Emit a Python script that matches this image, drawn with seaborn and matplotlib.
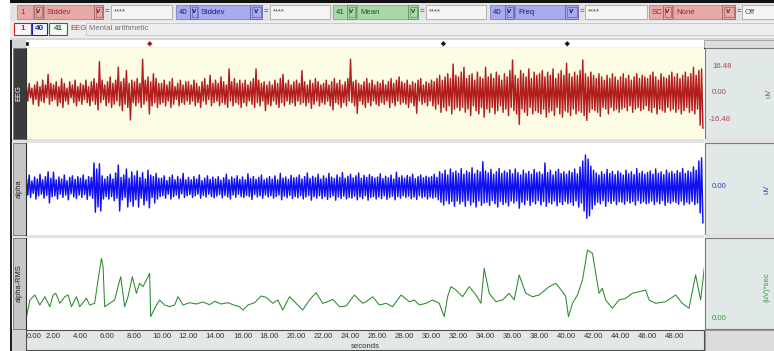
import numpy as np
import pandas as pd
import matplotlib
matplotlib.use("Agg")
import matplotlib.pyplot as plt
from matplotlib.patches import Rectangle
import seaborn as sns

# ---------------- data ----------------
# EEG (uV): local maxima every 0.2 s and local minima 0.1 s after each
eeg_peaks = [
    4, 6, 3, 5, 7, 4, 8, 5, 11.6, 6,
    5, 7, 4, 9, 6, 3, 7, 5, 8, 4,
    6, 5, 8, 4, 7, 9, 6, 19.5, 8, 5,
    7, 10, 6, 8, 16, 7, 9, 14, 6, 8,
    7, 9, 6, 21, 8, 10, 7, 12, 9, 6,
    6, 8, 5, 7, 9, 4, 6, 8, 5, 7,
    7, 5, 8, 6, 4, 7, 9, 5, 11, 6,
    8, 6, 10, 7, 5, 15, 7, 9, 6, 8,
    6, 8, 5, 7, 9, 15, 8, 6, 7, 5,
    7, 5, 8, 6, 9, 11.6, 6, 8, 5, 7,
    8, 6, 14, 7, 5, 8, 6, 9, 7, 5,
    6, 8, 5, 7, 9, 6, 8, 5, 7, 9,
    21, 7, 8, 6, 5, 7, 9, 6, 8, 5,
    7, 6, 8, 5, 7, 9, 6, 8, 10, 7,
    6, 8, 5, 7, 6, 8, 9, 5, 7, 6,
    8, 7, 9, 11, 8, 10, 12, 9, 18, 11,
    10, 13, 16, 9, 11, 12, 8, 13, 10, 9,
    16, 10, 12, 9, 13, 11, 8, 12, 10, 14,
    20.5, 11, 9, 14, 12, 10, 15, 9, 13, 11,
    12, 14, 10, 13, 11, 15, 9, 12, 14, 11,
    18.5, 12, 10, 13, 11, 14, 20.5, 12, 10, 13,
    11, 9, 12, 10, 8, 11, 9, 12, 10, 8,
    10, 12, 9, 11, 8, 10, 12, 9, 11, 10,
    9, 11, 13, 10, 8, 12, 10, 9, 11, 13,
    10, 12, 9, 11, 13, 10, 12, 16, 11, 14,
    15]
eeg_troughs = [
    -5, -3, -7, -4, -8, -5, -6, -3, -7, -5,
    -4, -8, -6, -9, -5, -7, -3, -6, -8, -5,
    -7, -4, -6, -8, -5, -7, -10.5, -6, -4, -8,
    -6, -9, -7, -5, -8, -11, -7, -9, -16.8, -6,
    -8, -6, -9, -7, -5, -13, -8, -6, -9, -7,
    -6, -8, -5, -9, -7, -4, -8, -6, -7, -5,
    -7, -5, -8, -6, -9, -5, -7, -4, -8, -6,
    -5, -8, -6, -7, -9, -5, -8, -6, -7, -9,
    -6, -8, -5, -7, -9, -6, -8, -5, -11, -7,
    -8, -5, -7, -9, -6, -8, -5, -7, -6, -8,
    -5, -7, -6, -8, -6, -9.5, -7, -5, -8, -6,
    -7, -5, -8, -10.5, -6, -7, -9, -6, -8, -5,
    -6, -8, -12.6, -5, -7, -9, -6, -8, -5, -7,
    -8, -6, -7, -5, -9, -6, -8, -5, -7, -6,
    -7, -9, -6, -8, -12.6, -5, -7, -6, -8, -5,
    -8, -10, -7, -12, -9, -11, -8, -13, -10, -9,
    -11, -9, -12, -10, -14, -8, -11, -13, -9, -15,
    -10, -12, -9, -13, -11, -8, -12, -10, -14, -9,
    -11, -13, -19.5, -10, -12, -14, -9, -13, -11, -12,
    -13, -10, -15, -12, -11, -14, -9, -13, -15, -11,
    -12, -14, -10, -13, -11, -12, -14, -17, -12, -10,
    -11, -12, -14.5, -9, -10, -13, -9, -11, -10, -12,
    -10, -9, -11, -8, -12, -10, -9, -11, -10, -8,
    -11, -12, -9, -13, -10, -11, -12, -9, -11, -10,
    -12, -10, -13, -11, -9, -12, -11, -13, -10, -20,
    -22]

# alpha band (uV), same sampling
alpha_peaks = [
    2, 3, 1.5, 2.5, 2, 3.2, 1.8, 2.6, 3.8, 2.2,
    3.7, 1.8, 2.5, 2, 3, 1.6, 2.4, 2.8, 1.9, 2.6,
    2.2, 3, 1.8, 2.6, 2.4, 6, 4.5, 5.8, 2.8, 2,
    2.6, 3.2, 2, 3.5, 5.5, 2.4, 3, 4.5, 2.2, 3.8,
    2.8, 4, 2.4, 3.6, 2, 4.2, 3, 2.6, 3.4, 2.2,
    2.2, 2.8, 1.6, 2.4, 3, 1.8, 2.6, 2, 3.4, 1.8,
    2.4, 1.8, 2.6, 2, 3, 1.6, 2.2, 2.8, 1.9, 2.5,
    2, 2.6, 1.7, 2.3, 3.2, 1.8, 2.5, 2.1, 2.8, 1.9,
    2.5, 1.8, 3.3, 2.1, 2.6, 1.9, 2.4, 3, 1.8, 2.2,
    2.6, 2, 2.8, 1.8, 3.4, 2.2, 2.5, 1.9, 2.9, 2.3,
    2.4, 3, 2, 2.6, 3.5, 2.1, 2.7, 2.3, 3.2, 2,
    2.8, 2.2, 3.4, 2.5, 2.1, 3, 2.4, 3.6, 2.2, 2.7,
    3.2, 2.3, 2.8, 3.5, 2.2, 2.9, 2.4, 3.1, 2.6, 2.2,
    2.5, 3.3, 2.1, 2.7, 2.3, 3, 2, 3.7, 2.4, 2.8,
    2.2, 2.9, 2.5, 3.2, 2.1, 2.6, 3, 2.3, 2.7, 2.4,
    2.6, 3.2, 2.4, 3.8, 3.3, 4.2, 3, 4.5, 3.6, 4,
    3.4, 4.6, 3.2, 4, 3.6, 4.8, 3.3, 4.2, 3.8, 6.3,
    4, 3.5, 4.4, 3.2, 3.8, 4.6, 3.4, 4, 3.6, 4.3,
    3.3, 4.5, 3.6, 3, 4.2, 3.4, 3.9, 3.2, 4.4, 3.6,
    3.8, 3.2, 6, 3.6, 4.2, 3, 3.9, 4.4, 3.4, 3.8,
    3.2, 4, 3.6, 4.5, 3.3, 5, 6.5, 8, 7, 5.2,
    4.2, 3.5, 3, 3.8, 3.2, 4.4, 3.4, 3.9, 3.1, 4,
    3.5, 3, 4.2, 3.3, 3.8, 3.1, 4.6, 3.4, 3.9, 3.2,
    3.6, 4, 3.2, 4.5, 3.4, 3.8, 3.1, 4.2, 3.5, 3.9,
    3.3, 4.1, 3.6, 4.6, 3.4, 4, 3.7, 5, 4.2, 6.5,
    7.3]
alpha_troughs = [
    -2, -2.6, -1.6, -3, -2.2, -1.8, -2.8, -2.1, -4, -2.4,
    -2.2, -3, -1.8, -2.6, -2, -3.2, -1.7, -2.5, -2.9, -2,
    -2.6, -1.9, -3.1, -2.2, -2.8, -6.3, -5, -6, -3, -2.4,
    -3, -2.4, -3.4, -2.8, -6, -3.2, -2.6, -5, -3.6, -4.8,
    -3.2, -5, -2.8, -4.5, -3.4, -5.2, -2.6, -4, -3, -2.4,
    -2.2, -2.8, -1.8, -3, -2.4, -2, -2.9, -1.7, -2.6, -2.2,
    -1.9, -2.6, -2.2, -1.8, -2.8, -2.1, -2.5, -1.8, -2.4, -2.7,
    -2.3, -1.9, -2.7, -2.1, -2.5, -3, -2, -2.6, -1.8, -2.4,
    -2.6, -2.1, -2.4, -3.1, -1.9, -2.5, -2.2, -2.8, -2, -2.5,
    -2.2, -2.8, -2.4, -2, -3.2, -2.3, -2.7, -2.1, -2.9, -2.4,
    -2.7, -2.2, -3, -2.5, -2.1, -3.3, -2.4, -2.8, -2.2, -2.9,
    -2.4, -3.1, -2.6, -2.2, -3.3, -2.5, -2.9, -2.3, -3, -2.6,
    -2.8, -2.3, -3.2, -2.5, -2.9, -2.2, -3.3, -2.6, -2.4, -3,
    -2.5, -2.9, -2.2, -3.1, -2.6, -2.3, -3.2, -2.4, -2.8, -2.2,
    -2.6, -2.3, -2.9, -2.5, -3.1, -2.2, -2.7, -2.4, -3, -2.5,
    -2.8, -2.5, -3.2, -3.8, -4.5, -3.4, -4.2, -3.6, -4.8, -3.5,
    -4.2, -3.6, -4.8, -3.4, -4.5, -3.8, -5, -3.5, -4.6, -4,
    -3.8, -4.6, -3.4, -4.2, -5, -3.6, -4.4, -3.9, -4.7, -3.5,
    -4, -3.5, -5.3, -3.8, -4.4, -3.3, -4.6, -3.7, -4.2, -3.4,
    -4.5, -3.6, -4.8, -3.9, -4.2, -3.5, -4.7, -3.8, -4.4, -3.6,
    -4.2, -3.8, -4.6, -3.5, -5, -4, -6, -7.8, -7.2, -5.5,
    -4.5, -3.8, -4.2, -3.4, -4.8, -3.6, -4.1, -3.5, -4.4, -3.7,
    -3.8, -4.3, -3.5, -4, -3.6, -4.5, -3.4, -4.1, -3.7, -4.2,
    -4, -3.5, -4.4, -3.7, -4.2, -3.4, -4.6, -3.8, -4.1, -3.6,
    -3.9, -4.3, -3.5, -4.5, -3.8, -4.2, -3.6, -4.4, -4, -6.5,
    -9]

# alpha-RMS ((uV)*sec), read at irregular times (s)
rms_t = [0.00, 0.25, 0.62, 0.99, 1.36, 1.73, 1.97, 2.17, 2.47, 2.84, 3.08, 3.33, 3.70, 3.94, 4.44, 4.68,
         5.05, 5.30, 5.55, 5.67, 5.79, 6.16, 6.53, 6.78, 6.98, 7.27, 7.52, 7.84, 8.14, 8.38, 8.63, 8.88,
         9.12, 9.20, 9.49, 9.86, 10.23, 10.60, 10.97, 11.22, 11.59, 12.08, 12.57, 13.07, 13.56, 13.93, 14.42,
         14.92, 15.41, 15.78, 16.03, 16.40, 16.89, 17.38, 17.75, 18.24, 18.61, 18.98, 19.48, 19.72, 20.09,
         20.46, 20.96, 21.45, 21.94, 22.31, 22.68, 23.18, 23.67, 24.29, 24.65, 24.90, 25.15, 25.64, 26.14,
         26.63, 27.12, 27.74, 28.36, 28.73, 29.09, 29.59, 30.08, 30.57, 30.94, 31.19, 31.44, 31.81, 32.30,
         32.79, 33.29, 33.66, 33.90, 34.27, 34.77, 35.26, 35.75, 36.12, 36.49, 36.98, 37.48, 37.97, 38.71,
         39.20, 39.70, 39.94, 40.14, 40.44, 40.81, 41.18, 41.55, 41.92, 42.16, 42.41, 42.65, 42.90, 43.39,
         43.89, 44.38, 44.87, 45.37, 45.86, 46.11, 46.60, 47.34, 48.08, 48.57, 49.07, 49.56, 49.93, 50.30]
rms_v = [0.23, 1.90, 2.40, 1.40, 2.23, 1.23, 2.40, 2.57, 1.57, 2.23, 2.40, 1.23, 2.23, 1.23, 2.07, 1.40,
         1.57, 3.90, 6.07, 5.23, 1.23, 1.57, 1.90, 3.23, 4.23, 1.23, 2.23, 4.23, 2.57, 3.57, 3.23, 3.90,
         4.57, 0.23, 1.07, 1.90, 1.40, 1.23, 1.40, 2.23, 1.40, 1.63, 1.50, 1.70, 1.43, 1.77, 1.50,
         1.63, 1.37, 1.23, 0.90, 1.40, 1.63, 2.30, 2.17, 1.57, 1.90, 0.90, 2.23, 1.90, 1.40,
         0.90, 1.90, 2.63, 1.57, 1.73, 1.97, 1.23, 1.30, 2.40, 1.90, 1.57, 1.73, 2.23, 1.40,
         1.57, 1.23, 2.40, 1.73, 1.90, 1.40, 1.57, 1.90, 1.57, 0.23, 2.23, 3.23, 2.90, 2.23,
         3.23, 2.40, 1.57, 5.07, 2.57, 1.73, 1.90, 2.57, 1.90, 4.40, 2.57, 2.23, 2.40, 3.23,
         3.57, 2.73, 2.23, 0.23, 1.57, 2.40, 3.90, 6.90, 6.57, 4.57, 2.57, 3.07, 1.90, 1.07,
         1.90, 2.07, 2.57, 2.73, 2.90, 1.90, 1.57, 1.73, 2.40, 1.57, 1.07, 4.40, 1.90, 6.23]

event_times = [0.05, 9.13, 30.88, 40.05]
event_kind = ["start", "user", "marker", "marker"]

tick_values = list(range(0, 50, 2))
tick_labels = ["%.2f" % v for v in tick_values]
x_unit = "seconds"

toolbar = [  # (text, x0, x1, role)
    ("1", 17, 33, "pink"), ("v", 34, 43, "pinka"), ("Stddev", 44, 94, "pink"), ("v", 94, 103, "pinka"),
    ("=", 104, 110, "eq"), ("****", 111, 172, "white"),
    ("40", 176, 190, "blue"), ("v", 190, 198, "bluea"), ("Stddev", 198, 250, "blue"), ("v", 250, 262, "bluea"),
    ("=", 263, 269, "eq"), ("****", 270, 330, "white"),
    ("41", 333, 347, "green"), ("v", 347, 356, "greena"), ("Mean", 357, 408, "green"), ("v", 408, 418, "greena"),
    ("=", 419, 425, "eq"), ("****", 426, 486, "white"),
    ("40", 490, 505, "blue"), ("v", 505, 514, "bluea"), ("Freq", 515, 565, "blue"), ("v", 565, 578, "bluea"),
    ("=", 579, 584, "eq"), ("****", 585, 647, "white"),
    ("SC", 649, 663, "pink"), ("v", 663, 672, "pinka"), ("None", 673, 722, "pink"), ("v", 722, 735, "pinka"),
    ("=", 736, 741, "eq"), ("Off", 742, 774, "white"),
]

# ---------------- figure ----------------
sns.set_theme(style="white")
plt.rcParams['font.family'] = ['Liberation Sans', 'DejaVu Sans']

W, H = 774, 351
fig = plt.figure(figsize=(W / 100, H / 100), dpi=100)
fig.patch.set_facecolor("white")

ui = fig.add_axes([0, 0, 1, 1])
ui.set_xlim(0, W)
ui.set_ylim(H, 0)
ui.axis("off")


def ax_px(x0, y0, x1, y1):
    return fig.add_axes([x0 / W, 1 - y1 / H, (x1 - x0) / W, (y1 - y0) / H])


def rect(x0, y0, x1, y1, fc, ec="none", lw=0.8, z=1):
    ui.add_patch(Rectangle((x0, y0), x1 - x0, y1 - y0, facecolor=fc, edgecolor=ec, lw=lw, zorder=z))


FS = 5.6
# window chrome
rect(10, 0, W, 2.5, "#111111")
rect(10, 2.5, W, 21, "#e3e3e3")
rect(10, 21, W, 38, "#ededed")
rect(10, 38, W, 40, "#d6d6d6")
rect(10, 40, 12, H, "#222222", z=5)

styles = {
    "pink": ("#e8a8a8", "#c08080", "#8a2a2a"),
    "pinka": ("#e8a8a8", "#a06060", "#6a2a2a"),
    "blue": ("#a9a9ee", "#8080c8", "#1a1a80"),
    "bluea": ("#a9a9ee", "#6060b0", "#1a1a80"),
    "green": ("#a8d8a8", "#80b080", "#1a5a1a"),
    "greena": ("#a8d8a8", "#609060", "#1a5a1a"),
    "white": ("#f4f4f4", "#a8a8a8", "#505050"),
}
for txt, x0, x1, role in toolbar:
    if role == "eq":
        ui.text((x0 + x1) / 2, 12, txt, fontsize=FS, ha="center", va="center", color="#333333")
        continue
    fc, ec, tc = styles[role]
    rect(x0, 5, x1, 19, fc, ec, 0.6, z=2)
    if role.endswith("a"):
        rect(x0 + 1.5, 7, x1 - 1.5, 17, fc, ec, 0.5, z=3)
        ui.text((x0 + x1) / 2, 11.5, txt, fontsize=FS, ha="center", va="center", color=tc,
                fontweight="bold", zorder=4)
    else:
        ui.text(x0 + 3, 12, txt, fontsize=FS, ha="left", va="center", color=tc, zorder=4)

# second row: channel buttons + label
for txt, x0, x1, col in [("1", 14, 31, "#c02020"), ("40", 32, 47, "#2020c0"), ("41", 49, 67, "#208020")]:
    rect(x0, 23, x1, 35, "#f8f8f8", col, 0.8, z=2)
    ui.text((x0 + x1) / 2, 29, txt, fontsize=FS + 0.3, ha="center", va="center", color=col,
            fontweight="bold", zorder=3)
ui.text(70, 29, "EEG", fontsize=FS, ha="left", va="center", color="#c03030")
rect(86, 23, W, 35, "#eeeeee", "#c4c4c4", 0.6, z=2)
ui.text(89, 29, "Mental arithmetic", fontsize=FS, ha="left", va="center", color="#707070", zorder=3)

# marker bar surroundings
rect(12, 40, 26, 48, "#d2d2d2")
rect(704, 40, W, 48, "#dedede", "#9a9a9a", 0.6)

XL = (-0.037, 50.18)
panels = [(48, 139), (143, 235), (238, 329)]
rect(12, 139, 704, 143, "#e2e2e2")
rect(12, 235, 704, 238, "#e2e2e2")

# ---------------- event bar ----------------
ax_ev = ax_px(26, 40, 704, 47.5)
ax_ev.set_facecolor("white")
ev = pd.DataFrame({"t": event_times, "y": [0] * len(event_times), "kind": event_kind})
sns.scatterplot(data=ev, x="t", y="y", hue="kind", style="kind",
                palette={"start": "#111111", "user": "#a01818", "marker": "#111111"},
                markers={"start": "s", "user": "D", "marker": "D"},
                s=9, linewidth=0.3, legend=False, ax=ax_ev)
ax_ev.set_xlim(*XL)
ax_ev.set_ylim(-1, 1)
ax_ev.set_xticks([]); ax_ev.set_yticks([])
ax_ev.set_xlabel(""); ax_ev.set_ylabel("")
for s in ax_ev.spines.values():
    s.set_visible(False)
ax_ev.spines["bottom"].set_visible(True)
ax_ev.spines["bottom"].set_color("#202020")
ax_ev.spines["bottom"].set_linewidth(0.8)

# ---------------- traces ----------------


def zigzag(peaks, troughs, step=0.2):
    n = min(len(peaks), len(troughs))
    tp = np.arange(n) * step
    t = np.ravel(np.column_stack([tp, tp + step / 2]))
    v = np.ravel(np.column_stack([peaks[:n], troughs[:n]]))
    return t, v


specs = [
    dict(p=eeg_peaks, q=eeg_troughs, ylim=(-28.6, 28.0), c="#b21e1e", bg="#fdfde6"),
    dict(p=alpha_peaks, q=alpha_troughs, ylim=(-12.0, 11.0), c="#1010f0", bg="white"),
]
axes = []
for (y0, y1), sp in zip(panels[:2], specs):
    ax = ax_px(26, y0, 704, y1)
    ax.set_facecolor(sp["bg"])
    tz, vz = zigzag(sp["p"], sp["q"])
    sns.lineplot(x=tz, y=vz, ax=ax, color=sp["c"], lw=1.05, estimator=None, sort=False)
    ax.set_xlim(*XL)
    ax.set_ylim(*sp["ylim"])
    axes.append(ax)

ax_r = ax_px(26, 238, 704, 329)
ax_r.set_facecolor("white")
sns.lineplot(x=rms_t, y=rms_v, ax=ax_r, color="#2a8a2a", lw=0.75, estimator=None, sort=False)
ax_r.set_xlim(*XL)
ax_r.set_ylim(-1.0, 8.1)
axes.append(ax_r)

for ax in axes:
    ax.set_xticks([]); ax.set_yticks([])
    ax.set_xlabel(""); ax.set_ylabel("")
    for s in ax.spines.values():
        s.set_visible(False)
    ax.spines["left"].set_visible(True)
    ax.spines["left"].set_color("#303030")
    ax.spines["left"].set_linewidth(0.8)

# left channel strips
names = ["EEG", "alpha", "alpha-RMS"]
strip_fc = ["#3b3b3b", "#c6c6c6", "#c6c6c6"]
strip_tc = ["white", "#222222", "#222222"]
for (y0, y1), nm, fc, tc in zip(panels, names, strip_fc, strip_tc):
    rect(13, y0, 25.5, y1, fc, "#707070", 0.6, z=2)
    ui.text(19.3, (y0 + y1) / 2, nm, rotation=90, fontsize=FS - 0.2, ha="center", va="center",
            color=tc, zorder=3)

# right scale panels
for (y0, y1) in panels:
    rect(705, y0, W + 2, y1, "#e1e8e8", "#7a7a7a", 0.8, z=2)
rect(705, 139, W, 143, "#e2e2e2", z=2)
rect(705, 235, W, 238, "#e2e2e2", z=2)
eeg_c, alpha_c, rms_c = "#b04848", "#3a3ab8", "#3a9a3a"
for txt, x, y in [("16.48", 712, 66.5), ("0.00", 712, 93), ("-16.48", 709, 119.5)]:
    ui.text(x, y, txt, fontsize=FS, ha="left", va="center", color=eeg_c, zorder=4)
ui.text(769, 93, "uV", rotation=90, fontsize=FS, ha="center", va="center", color=eeg_c, zorder=4)
ui.text(712, 187, "0.00", fontsize=FS, ha="left", va="center", color=alpha_c, zorder=4)
ui.text(767, 189, "uV", rotation=90, fontsize=FS, ha="center", va="center", color=alpha_c, zorder=4)
ui.text(712, 319, "0.00", fontsize=FS, ha="left", va="center", color=rms_c, zorder=4)
ui.text(767, 287, "(uV)*sec", rotation=90, fontsize=FS, ha="center", va="center", color=rms_c, zorder=4)

# bottom time axis
rect(12, 329, 26, H, "#d4d4d4")
rect(705, 330, W, H, "#dcdcdc", "#8a8a8a", 0.6, z=2)
ax_t = ax_px(26, 330, 704, 350)
ax_t.set_facecolor("#e2e7e7")
ax_t.set_xlim(*XL)
ax_t.set_ylim(0, 1)
ax_t.set_yticks([])
ax_t.set_xticks(tick_values)
ax_t.set_xticklabels(tick_labels)
ax_t.tick_params(axis="x", length=0, pad=-12.5, labelsize=FS, labelcolor="#333333")
ax_t.get_xticklabels()[0].set_ha("left")
ax_t.text(0.5, 0.16, x_unit, transform=ax_t.transAxes, ha="center", va="center",
          fontsize=FS, color="#333333")
for s in ax_t.spines.values():
    s.set_color("#505050")
    s.set_linewidth(0.8)

fig.savefig("out.png", dpi=100, facecolor=fig.get_facecolor())
